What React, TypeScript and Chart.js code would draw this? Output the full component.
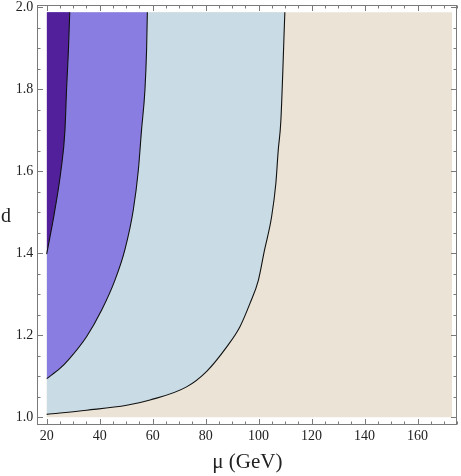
import React, { useEffect, useRef } from "react";
import { Chart, registerables } from "chart.js";

Chart.register(...registerables);

// ---- data ----
// coloured domain of the plot
const muDomain = [20, 173];
const dDomain = [1.0, 1.988];

// frame (axis) ranges
const xAxisRange = [16.45, 175];
const yAxisRange = [0.981, 2.0063];

// tick labels
const xTickLabels = [20, 40, 60, 80, 100, 120, 140, 160];
const yTickLabels = [1.0, 1.2, 1.4, 1.6, 1.8, 2.0];
const xMinorStep = 5;
const yMinorStep = 0.05;

// boundary: dark purple / medium purple
const curve1Mu = [20, 23.1, 25.4, 26.9, 27.5, 28.2, 28.7];
const curve1D = [1.398, 1.506, 1.603, 1.701, 1.8, 1.895, 1.988];

// boundary: medium purple / light blue
const curve2Mu = [20, 25, 28.2, 35.1, 40.8, 45.8, 49.5, 52.7, 54.6, 55.8, 57.1, 57.7, 58.0];
const curve2D = [1.094, 1.119, 1.14, 1.197, 1.262, 1.335, 1.408, 1.506, 1.603, 1.701, 1.8, 1.895, 1.988];

// boundary: light blue / beige
const curve3Mu = [20, 35.1, 50.2, 59, 72.8, 80.4, 87.9, 92.9, 96.7, 99.9, 102.2, 104.9, 106.5, 107.4, 108.4, 109.9];
const curve3D = [1.007, 1.017, 1.029, 1.042, 1.074, 1.112, 1.171, 1.22, 1.277, 1.334, 1.407, 1.489, 1.57, 1.651, 1.724, 1.988];

// ---- styles ----
const COLORS = {
  beige: "#ebe4d6",
  light: "#c9dbe4",
  mid: "#8a7de2",
  dark: "#52209a",
  frame: "#7a7a7a",
  text: "#222222",
};
const FONT = "'Liberation Serif', 'Times New Roman', serif";

const pts = (mu: number[], d: number[]) => mu.map((m, i) => ({ x: m, y: d[i] }));
const rectPoly = [
  { x: muDomain[0], y: dDomain[0] },
  { x: muDomain[1], y: dDomain[0] },
  { x: muDomain[1], y: dDomain[1] },
  { x: muDomain[0], y: dDomain[1] },
];

const framePlugin = {
  id: "frameTicks",
  afterDraw(chart: any) {
    const { ctx, chartArea: a, scales } = chart;
    const xs = scales.x;
    const ys = scales.y;
    ctx.save();
    ctx.strokeStyle = COLORS.frame;
    ctx.lineWidth = 1;
    const L = Math.round(a.left) + 0.5;
    const R = Math.round(a.right) - 0.5;
    const T = Math.round(a.top) + 0.5;
    const B = Math.round(a.bottom) - 0.5;
    ctx.strokeRect(L, T, R - L, B - T);
    ctx.beginPath();
    const i0 = Math.ceil(xs.min / xMinorStep - 1e-9);
    const i1 = Math.floor(xs.max / xMinorStep + 1e-9);
    for (let i = i0; i <= i1; i++) {
      const v = i * xMinorStep;
      const px = Math.round(xs.getPixelForValue(v)) + 0.5;
      const len = i % 4 === 0 ? 5.5 : 3;
      ctx.moveTo(px, B);
      ctx.lineTo(px, B - len);
      ctx.moveTo(px, T);
      ctx.lineTo(px, T + len);
    }
    const j0 = Math.ceil(ys.min / yMinorStep - 1e-9);
    const j1 = Math.floor(ys.max / yMinorStep + 1e-9);
    for (let j = j0; j <= j1; j++) {
      const v = j * yMinorStep;
      const py = Math.round(ys.getPixelForValue(v)) + 0.5;
      const len = j % 4 === 0 ? 5.5 : 3;
      ctx.moveTo(L, py);
      ctx.lineTo(L + len, py);
      ctx.moveTo(R, py);
      ctx.lineTo(R - len, py);
    }
    ctx.stroke();
    // unrotated y-axis title
    ctx.fillStyle = COLORS.text;
    ctx.font = `20px ${FONT}`;
    ctx.textAlign = "center";
    ctx.textBaseline = "alphabetic";
    ctx.fillText("d", 6, (a.top + a.bottom) / 2 + 7);
    ctx.restore();
  },
};

export default function App() {
  const ref = useRef<HTMLCanvasElement | null>(null);

  useEffect(() => {
    if (!ref.current) return;
    // each boundary curve fills the region above it up to the top of the domain
    const curveSet = (data: any[], color: string, order: number) => ({
      data,
      order,
      showLine: true,
      fill: { value: dDomain[1] },
      backgroundColor: color,
      borderColor: "#111111",
      borderWidth: 1.1,
      pointRadius: 0,
      cubicInterpolationMode: "monotone",
    });
    // Chart.js draws lower "order" on top
    const chart = new Chart(ref.current, {
      type: "scatter",
      data: {
        datasets: [
          curveSet(pts(curve1Mu, curve1D), COLORS.dark, 1),
          curveSet(pts(curve2Mu, curve2D), COLORS.mid, 2),
          curveSet(pts(curve3Mu, curve3D), COLORS.light, 3),
          {
            data: rectPoly,
            order: 4,
            showLine: true,
            fill: "shape",
            backgroundColor: COLORS.beige,
            borderWidth: 0,
            borderColor: "rgba(0,0,0,0)",
            pointRadius: 0,
            tension: 0,
          },
        ] as any,
      },
      options: {
        animation: false,
        responsive: false,
        devicePixelRatio: 1,
        events: [],
        layout: { padding: { top: 4.7, right: 3.7, left: 0, bottom: 0 } },
        plugins: { legend: { display: false }, tooltip: { enabled: false } },
        elements: { point: { radius: 0 } },
        scales: {
          x: {
            type: "linear",
            position: "bottom",
            min: xAxisRange[0],
            max: xAxisRange[1],
            grid: { display: false, drawTicks: false },
            border: { display: false },
            afterBuildTicks: (s: any) => {
              s.ticks = xTickLabels.map((v) => ({ value: v }));
            },
            afterFit: (s: any) => {
              s.height = 51;
            },
            ticks: {
              autoSkip: false,
              maxRotation: 0,
              padding: 3,
              color: COLORS.text,
              font: { family: FONT, size: 14 },
              callback: (v: any) => String(v),
            },
            title: {
              display: true,
              text: "μ (GeV)",
              color: COLORS.text,
              font: { family: FONT, size: 21 },
              padding: { top: 0, bottom: 1 },
            },
          },
          y: {
            type: "linear",
            position: "left",
            min: yAxisRange[0],
            max: yAxisRange[1],
            grid: { display: false, drawTicks: false },
            border: { display: false },
            afterBuildTicks: (s: any) => {
              s.ticks = yTickLabels.map((v) => ({ value: v }));
            },
            afterFit: (s: any) => {
              s.width = 37.3;
              s.paddingTop = 0;
              s.paddingBottom = 0;
            },
            ticks: {
              autoSkip: false,
              padding: 4,
              color: COLORS.text,
              font: { family: FONT, size: 14 },
              callback: (v: any) => Number(v).toFixed(1),
            },
          },
        },
      } as any,
      plugins: [framePlugin],
    });
    return () => chart.destroy();
  }, []);

  return (
    <div style={{ position: "absolute", left: 0, top: 0, width: 461, height: 476 }}>
      <canvas ref={ref} width={461} height={476} style={{ display: "block" }} />
    </div>
  );
}
